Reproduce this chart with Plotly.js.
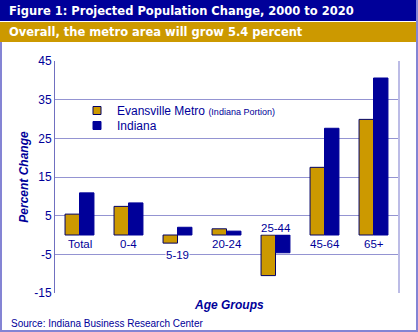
<!DOCTYPE html>
<html><head><meta charset="utf-8">
<script src="https://cdn.plot.ly/plotly-3.0.1.min.js"></script>
<style>html,body{margin:0;padding:0;background:#fff}#chart{width:418px;height:332px}</style>
</head><body><div id="chart"></div>
<script>
const categories = ['Total', '0-4', '5-19', '20-24', '25-44', '45-64', '65+'];
const metroValues = [5.4, 7.4, -2.1, 1.6, -10.5, 17.5, 29.9];
const indianaValues = [10.9, 8.3, 2.0, 1.0, -4.6, 27.6, 40.6];
const yTickValues = [-15, -5, 5, 15, 25, 35, 45];
const seriesNames = ['Evansville Metro <span style="font-size:9px">(Indiana Portion)</span>', 'Indiana'];
const titleText = 'Figure 1: Projected Population Change, 2000 to 2020';
const subtitleText = 'Overall, the metro area will grow 5.4 percent';
const sourceText = 'Source: Indiana Business Research Center';

const GOLD = '#cc9900', NAVY = '#000099', TXT = '#000099';
const W = 418, H = 332, ML = 55, MR = 20, MT = 61, MB = 39;
const PW = W - ML - MR, PH = H - MT - MB;
const X = px => (px - ML) / PW;
const Y = py => (H - MB - py) / PH;
const SANS = 'Liberation Sans, Arial, sans-serif';

const traces = [
  {type: 'bar', x: categories, y: metroValues, name: seriesNames[0], showlegend: false,
   marker: {color: GOLD, line: {color: '#000066', width: 1}}, hoverinfo: 'skip'},
  {type: 'bar', x: categories, y: indianaValues, name: seriesNames[1], showlegend: false,
   marker: {color: NAVY, line: {color: NAVY, width: 1}}, hoverinfo: 'skip'},
  {type: 'scatter', mode: 'markers', x: [null], y: [null], name: seriesNames[0], legend: 'legend',
   marker: {symbol: 'square', size: 8, color: GOLD, line: {color: '#000066', width: 1}}},
  {type: 'scatter', mode: 'markers', x: [null], y: [null], name: seriesNames[1], legend: 'legend2',
   marker: {symbol: 'square', size: 8, color: NAVY, line: {color: NAVY, width: 1}}}
];

function labelY(i) {
  const lo = Math.min(metroValues[i], indianaValues[i]);
  const hi = Math.max(metroValues[i], indianaValues[i]);
  if (hi < 0) return 1.9;
  if (lo < -1) return lo - 3.1;
  return -2.3;
}

const annotations = categories.map((c, i) => ({
  x: c, y: labelY(i), xref: 'x', yref: 'y', text: c, showarrow: false,
  font: {family: SANS, size: 11.5, color: TXT}, bgcolor: '#ffffff', borderpad: 0,
  xanchor: 'center', yanchor: 'middle'
}));
annotations.push(
  {xref: 'paper', yref: 'paper', x: X(7), y: Y(10.5), text: titleText, showarrow: false,
   xanchor: 'left', yanchor: 'middle', font: {family: 'DejaVu Sans, sans-serif', size: 11.5, weight: 'bold', color: '#ffffff'}},
  {xref: 'paper', yref: 'paper', x: X(7), y: Y(32), text: subtitleText, showarrow: false,
   xanchor: 'left', yanchor: 'middle', font: {family: 'DejaVu Sans, sans-serif', size: 11.5, weight: 'bold', color: '#ffffff'}},
  {xref: 'paper', yref: 'paper', x: X(9), y: Y(323), text: sourceText, showarrow: false,
   xanchor: 'left', yanchor: 'middle', font: {family: SANS, size: 10, color: TXT}},
  {xref: 'paper', yref: 'paper', x: X(228.5), y: Y(305), text: '<b><i>Age Groups</i></b>', showarrow: false,
   xanchor: 'center', yanchor: 'middle', font: {family: SANS, size: 12, color: TXT}}
);

const BORDER = '#8484d4';
const shapes = [
  {type: 'rect', xref: 'paper', yref: 'paper', x0: X(0), x1: X(416), y0: Y(0), y1: Y(21), fillcolor: NAVY, line: {width: 0}},
  {type: 'rect', xref: 'paper', yref: 'paper', x0: X(0), x1: X(416), y0: Y(22), y1: Y(42), fillcolor: GOLD, line: {width: 0}},
  {type: 'line', xref: 'paper', yref: 'paper', x0: X(1), x1: X(1), y0: Y(42), y1: Y(332), line: {color: BORDER, width: 2}},
  {type: 'line', xref: 'paper', yref: 'paper', x0: X(417), x1: X(417), y0: Y(0), y1: Y(332), line: {color: BORDER, width: 2}},
  {type: 'line', xref: 'paper', yref: 'paper', x0: X(0), x1: X(418), y0: Y(331), y1: Y(331), line: {color: BORDER, width: 2}},
  {type: 'line', xref: 'paper', yref: 'paper', x0: X(399), x1: X(399), y0: 0, y1: 1, line: {color: '#bcbce6', width: 2}}
];

const legendBase = {xanchor: 'left', yanchor: 'top', bgcolor: 'rgba(0,0,0,0)',
  font: {family: SANS, size: 12, color: TXT}, itemwidth: 30};

const layout = {
  width: W, height: H,
  margin: {l: ML, r: MR, t: MT, b: MB, pad: 0},
  paper_bgcolor: '#ffffff', plot_bgcolor: '#ffffff',
  font: {family: SANS, size: 12, color: TXT},
  barmode: 'group', bargap: 0.41, bargroupgap: 0,
  showlegend: true,
  legend: Object.assign({x: X(77), y: Y(96)}, legendBase),
  legend2: Object.assign({x: X(77), y: Y(111)}, legendBase),
  xaxis: {type: 'category', showticklabels: false, ticks: '', showgrid: false, zeroline: false, showline: false,
          fixedrange: true},
  xaxis2: {overlaying: 'x', anchor: 'free', position: Y(235), type: 'linear', range: [0, 7],
           tickvals: [1, 2, 3, 4, 5, 6], ticks: 'outside', ticklen: 3, tickcolor: '#333388', tickwidth: 1,
           showticklabels: false, showline: true, linecolor: '#b4b4cc', linewidth: 1, showgrid: false, zeroline: false},
  yaxis: {range: [-15, 45], tickvals: yTickValues, ticktext: yTickValues.map(String), showgrid: true,
          gridcolor: '#9494d2', gridwidth: 1, zeroline: false, showline: true, linecolor: '#7070c0', linewidth: 1,
          ticks: '', tickfont: {family: SANS, size: 12, color: TXT},
          title: {text: 'Percent Change', standoff: 3, font: {family: SANS, size: 12, weight: 'bold', style: 'italic', color: TXT}}},
  shapes: shapes,
  annotations: annotations
};

Plotly.newPlot('chart', traces, layout, {displayModeBar: false, staticPlot: true});
</script></body></html>
